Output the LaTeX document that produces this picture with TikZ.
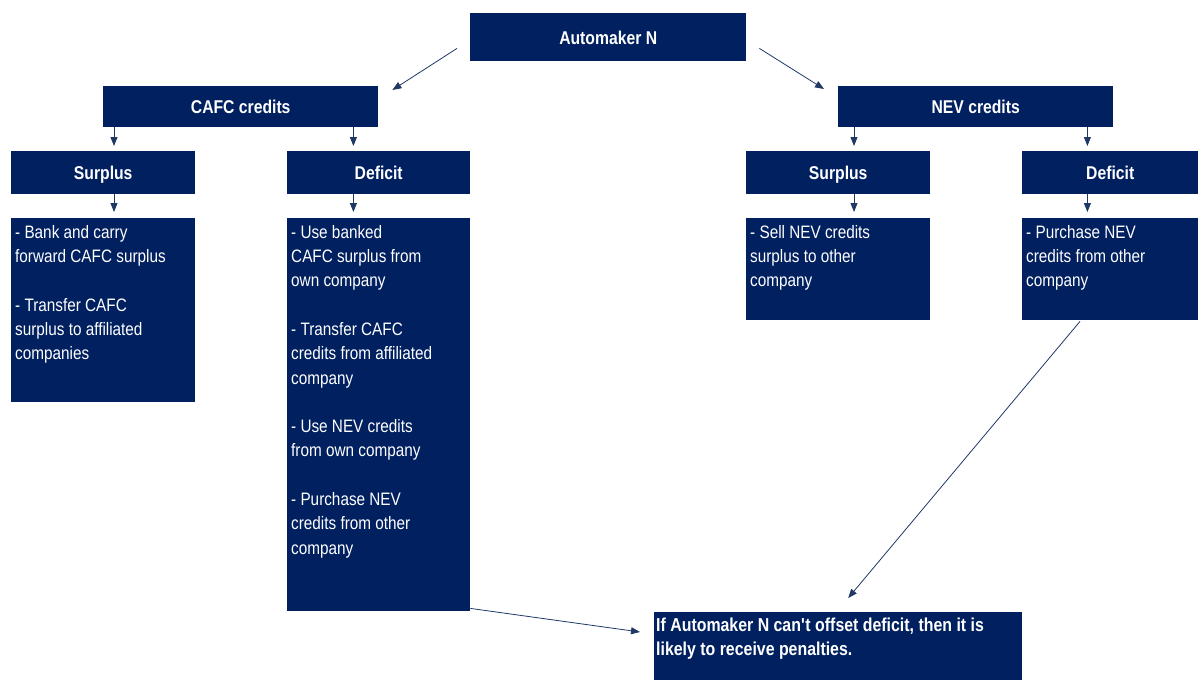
\documentclass[tikz,border=0pt]{standalone}
\usepackage{fontspec}
\setmainfont{Liberation Sans}[FakeStretch=0.85]
\usetikzlibrary{arrows.meta,calc}
\definecolor{navy}{HTML}{002060}
\definecolor{arrcol}{HTML}{1F3864}
\newcommand{\bodyt}[3]{\parbox[c][#2][t]{#1}{\raggedright #3}}
\begin{document}
\begin{tikzpicture}[x=1pt,y=-1pt,
  head/.style={fill=navy, text=white, font=\bfseries\fontsize{18.5}{22}\selectfont, inner sep=0pt, text height=14pt, text depth=0pt, anchor=north west},
  bodybox/.style={fill=navy, text=white, font=\fontsize{18}{24.3}\selectfont, inner xsep=4pt, inner ysep=7pt, anchor=north west},
  arr/.style={draw=arrcol, line width=0.8pt, -{Triangle[length=9pt,width=7pt]}}]
\useasboundingbox (0,0) rectangle (1198,680);

% headings
\node[head, minimum width=276pt, minimum height=48pt] (auto) at (470,13) {Automaker N};
\node[head, minimum width=275pt, minimum height=41pt] (cafc) at (103,86) {CAFC credits};
\node[head, minimum width=275pt, minimum height=41pt] (nev) at (838,86) {NEV credits};
\node[head, minimum width=184pt, minimum height=43pt] (lsur) at (11,151) {Surplus};
\node[head, minimum width=183pt, minimum height=43pt] (ldef) at (287,151) {Deficit};
\node[head, minimum width=184pt, minimum height=43pt] (rsur) at (746,151) {Surplus};
\node[head, minimum width=176pt, minimum height=43pt] (rdef) at (1022,151) {Deficit};

% bodies
\node[bodybox] (lsbody) at (11,218) {\bodyt{176pt}{170pt}{- Bank and carry\\forward CAFC surplus\\[24.3pt]- Transfer CAFC\\surplus to affiliated\\companies}};
\node[bodybox] (ldbody) at (287,218) {\bodyt{175pt}{379pt}{- Use banked\\CAFC surplus from\\own company\\[24.3pt]- Transfer CAFC\\credits from affiliated\\company\\[24.3pt]- Use NEV credits\\from own company\\[24.3pt]- Purchase NEV\\credits from other\\company}};
\node[bodybox] (rsbody) at (746,218) {\bodyt{176pt}{88pt}{- Sell NEV credits\\surplus to other\\company}};
\node[bodybox] (rdbody) at (1022,218) {\bodyt{168pt}{88pt}{- Purchase NEV\\credits from other\\company}};
\node[bodybox, inner xsep=2pt, inner ysep=6pt, font=\bfseries\fontsize{18.7}{24}\selectfont] (final) at (654,612) {\bodyt{364pt}{56pt}{If Automaker N can\textquotesingle t offset deficit, then it is\\likely to receive penalties.}};

% free connector ends
\coordinate (a1s) at ($(auto.south west)+(-13,-13)$);
\coordinate (a1e) at ($(cafc.north east)+(14,4)$);
\coordinate (a2s) at ($(auto.south east)+(13,-13)$);
\coordinate (a2e) at ($(nev.north west)+(-14,3)$);
\coordinate (c1) at ($(cafc.south west)+(11,0)$);
\coordinate (c2) at ($(cafc.south east)+(-25,0)$);
\coordinate (n1) at ($(nev.south west)+(16,0)$);
\coordinate (n2) at ($(nev.south east)+(-26,0)$);
\coordinate (b1s) at ($(ldbody.south east)+(0,-3)$);
\coordinate (b1e) at ($(final.north west)+(-14,20)$);
\coordinate (b2s) at ($(rdbody.south west)+(58,1)$);
\coordinate (b2e) at ($(final.north)+(10,-14)$);

% connectors
\draw[arr] (a1s) -- (a1e);
\draw[arr] (a2s) -- (a2e);
\draw[arr, shorten >=5pt] (c1) -- (c1 |- lsur.north);
\draw[arr, shorten >=5pt] (c2) -- (c2 |- ldef.north);
\draw[arr, shorten >=5pt] (n1) -- (n1 |- rsur.north);
\draw[arr, shorten >=5pt] (n2) -- (n2 |- rdef.north);
\draw[arr, shorten >=6pt] (c1 |- lsur.south) -- (c1 |- lsbody.north);
\draw[arr, shorten >=6pt] (c2 |- ldef.south) -- (c2 |- ldbody.north);
\draw[arr, shorten >=6pt] (n1 |- rsur.south) -- (n1 |- rsbody.north);
\draw[arr, shorten >=6pt] (n2 |- rdef.south) -- (n2 |- rdbody.north);
\draw[arr] (b1s) -- (b1e);
\draw[arr] (b2s) -- (b2e);
\end{tikzpicture}
\end{document}
